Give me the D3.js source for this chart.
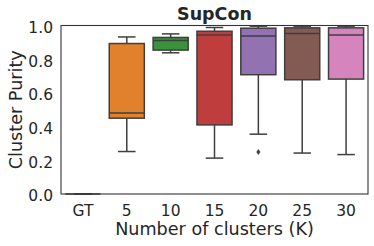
<!DOCTYPE html>
<html lang="en">
<head>
    <meta charset="UTF-8">
    <title>SupCon cluster purity</title>
    <script src="https://d3js.org/d3.v7.min.js"></script>
    <style>
        body, html {
            margin: 0;
            background-color: #ffffff;
            overflow: hidden;
        }
        svg {
            display: block;
            font-family: 'DejaVu Sans', sans-serif;
        }
    </style>
</head>
<body>
<svg id="chart" width="374" height="246"></svg>

<script>
    // values
    const categories = ['GT', '5', '10', '15', '20', '25', '30'];
    const whiskerLow = [0.0, 0.252, 0.838, 0.213, 0.355, 0.243, 0.234];
    const q1 = [0.0, 0.45, 0.854, 0.41, 0.708, 0.678, 0.682];
    const medians = [0.0, 0.481, 0.911, 0.943, 0.938, 0.953, 0.944];
    const q3 = [0.0, 0.893, 0.929, 0.966, 0.984, 0.986, 0.986];
    const whiskerHigh = [0.0, 0.932, 0.95, 0.988, 0.996, 0.996, 0.996];
    const outliers = [[], [], [], [], [0.249], [], []];
    const colors = ['#3274a1', '#e1812c', '#3a923a', '#c03d3e', '#9372b2', '#845b53', '#d684bd'];
    const yTicks = [0.0, 0.2, 0.4, 0.6, 0.8, 1.0];

    const margin = {left: 61, right: 6, top: 25.5, bottom: 52};
    const width = 374, height = 246;
    const edge = '#3f3f3f';

    const svg = d3.select('#chart');

    const x = d3.scaleBand()
        .domain(categories)
        .range([margin.left, width - margin.right])
        .padding(0);

    const y = d3.scaleLinear()
        .domain([0, 1])
        .range([height - margin.bottom, margin.top]);

    const boxW = x.bandwidth() * 0.8;

    // boxes
    categories.forEach((c, i) => {
        const cx = x(c) + x.bandwidth() / 2;
        const g = svg.append('g');

        // whiskers
        g.append('line')
            .attr('x1', cx).attr('x2', cx)
            .attr('y1', y(q3[i])).attr('y2', y(whiskerHigh[i]))
            .attr('stroke', edge).attr('stroke-width', 1.5);
        g.append('line')
            .attr('x1', cx).attr('x2', cx)
            .attr('y1', y(q1[i])).attr('y2', y(whiskerLow[i]))
            .attr('stroke', edge).attr('stroke-width', 1.5);
        [whiskerLow[i], whiskerHigh[i]].forEach(v => {
            g.append('line')
                .attr('x1', cx - boxW / 4).attr('x2', cx + boxW / 4)
                .attr('y1', y(v)).attr('y2', y(v))
                .attr('stroke', edge).attr('stroke-width', 1.5);
        });

        g.append('rect')
            .attr('x', cx - boxW / 2)
            .attr('y', y(q3[i]))
            .attr('width', boxW)
            .attr('height', Math.max(0, y(q1[i]) - y(q3[i])))
            .attr('fill', colors[i])
            .attr('stroke', edge)
            .attr('stroke-width', 1.5);

        g.append('line')
            .attr('x1', cx - boxW / 2).attr('x2', cx + boxW / 2)
            .attr('y1', y(medians[i])).attr('y2', y(medians[i]))
            .attr('stroke', edge).attr('stroke-width', 1.5);

        outliers[i].forEach(v => {
            g.append('path')
                .attr('d', d3.symbol(d3.symbolDiamond2, 24)())
                .attr('transform', `translate(${cx},${y(v)}) scale(0.65,1)`)
                .attr('fill', edge);
        });
    });

    // frame
    svg.append('rect')
        .attr('x', margin.left)
        .attr('y', margin.top)
        .attr('width', width - margin.right - margin.left)
        .attr('height', height - margin.bottom - margin.top)
        .attr('fill', 'none')
        .attr('stroke', '#333333')
        .attr('stroke-width', 1.1);

    // y ticks
    svg.append('g').selectAll('text')
        .data(yTicks)
        .join('text')
        .attr('x', 53)
        .attr('y', d => y(d))
        .attr('dy', '0.48em')
        .attr('text-anchor', 'end')
        .attr('font-size', 15.5)
        .attr('fill', '#262626')
        .text(d => d.toFixed(1));

    // x ticks
    svg.append('g').selectAll('text')
        .data(categories)
        .join('text')
        .attr('x', d => x(d) + x.bandwidth() / 2)
        .attr('y', 216)
        .attr('text-anchor', 'middle')
        .attr('font-size', 15.5)
        .attr('fill', '#262626')
        .text(d => d);

    // labels
    svg.append('text')
        .attr('x', (margin.left + width - margin.right) / 2)
        .attr('y', 235)
        .attr('text-anchor', 'middle')
        .attr('font-size', 17.6)
        .attr('fill', '#262626')
        .text('Number of clusters (K)');

    svg.append('text')
        .attr('transform', `translate(22,${(margin.top + height - margin.bottom) / 2}) rotate(-90)`)
        .attr('text-anchor', 'middle')
        .attr('font-size', 17.6)
        .attr('fill', '#262626')
        .text('Cluster Purity');

    svg.append('text')
        .attr('x', (margin.left + width - margin.right) / 2)
        .attr('y', 20)
        .attr('text-anchor', 'middle')
        .attr('font-size', 17.5)
        .attr('font-weight', 'bold')
        .attr('fill', '#262626')
        .text('SupCon');
</script>
</body>
</html>
